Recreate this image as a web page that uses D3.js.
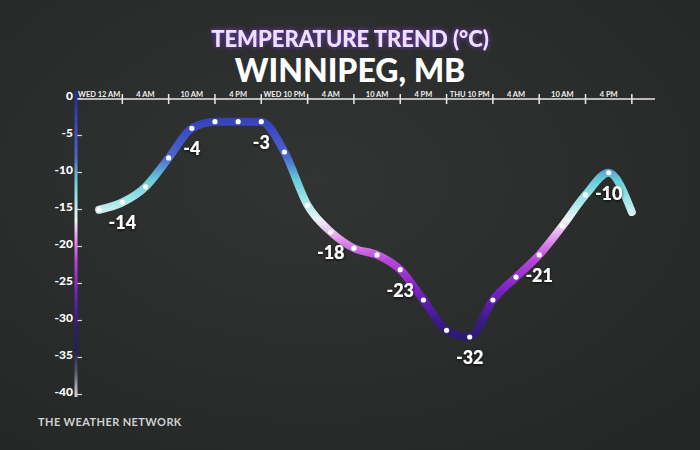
<!DOCTYPE html>
<html>
<head>
<meta charset="utf-8">
<script src="https://cdn.jsdelivr.net/npm/d3@7"></script>
<style>
  html, body { margin: 0; padding: 0; background: #2d2e2e; }
  svg { display: block; }
</style>
</head>
<body>
<script>
const width = 700;
const height = 450;

// temperatures every 3 hours (°C)
const hours = [3, 6, 9, 12, 15, 18, 21, 24, 27, 30, 33, 36, 39, 42, 45, 48, 51, 54, 57, 60, 63, 66, 69, 72];
const temps = [-15.1, -14.1, -12.0, -8.1, -4.1, -3.2, -3.2, -3.2, -7.3, -14.5, -18.1, -20.3,
               -21.2, -23.2, -27.3, -31.4, -32.3, -27.3, -24.2, -21.2, -17.3, -13.1, -10.1, -15.4];

// callout labels: index into the series, and printed text
const calloutIdx = [1, 4, 7, 10, 13, 16, 19, 22];
const calloutText = ['-14', '-4', '-3', '-18', '-23', '-32', '-21', '-10'];

// top axis labels (one per 6-hour band)
const timeLabels = ['WED 12 AM', '4 AM', '10 AM', '4 PM', 'WED 10 PM', '4 AM', '10 AM', '4 PM',
                    'THU 10 PM', '4 AM', '10 AM', '4 PM'];
const yTicks = [0, -5, -10, -15, -20, -25, -30, -35, -40];

// colour ramp keyed by temperature
const rampTemps  = [0, -4, -8, -11, -14, -16.5, -19, -22, -26, -30, -34, -37, -40];
const rampColors = ['#2a2f9a', '#3b49c2', '#4c66cc', '#66cbd8', '#a6e8ea', '#f2f3f6', '#e298ec',
                    '#b645d8', '#7a22c4', '#3a1a8e', '#1f1c5c', '#55566e', '#c9c9d2'];

const svg = d3.select('body').append('svg')
    .attr('width', width)
    .attr('height', height);

const defs = svg.append('defs');

// background with a bit of variation
const bg = defs.append('radialGradient').attr('id', 'bg')
    .attr('cx', '45%').attr('cy', '40%').attr('r', '75%');
bg.append('stop').attr('offset', '0%').attr('stop-color', '#323333');
bg.append('stop').attr('offset', '100%').attr('stop-color', '#252626');
svg.append('rect').attr('width', width).attr('height', height).attr('fill', 'url(#bg)');

const x = d3.scaleLinear().domain([0, 75]).range([76, 655]);
const y = d3.scaleLinear().domain([0, -40]).range([98, 394]);

// vertical gradient following temperature
const grad = defs.append('linearGradient').attr('id', 'tempGrad')
    .attr('gradientUnits', 'userSpaceOnUse')
    .attr('x1', 0).attr('x2', 0)
    .attr('y1', y(0)).attr('y2', y(-40));
grad.selectAll('stop')
    .data(rampTemps)
    .enter().append('stop')
    .attr('offset', d => (d / -40))
    .attr('stop-color', (d, i) => rampColors[i]);

// glow for the title
const glow = defs.append('filter').attr('id', 'glow')
    .attr('x', '-20%').attr('y', '-50%').attr('width', '140%').attr('height', '200%');
glow.append('feGaussianBlur').attr('in', 'SourceAlpha').attr('stdDeviation', 2.5).attr('result', 'b');
glow.append('feFlood').attr('flood-color', '#8a3cf0').attr('flood-opacity', 0.9);
glow.append('feComposite').attr('in2', 'b').attr('operator', 'in').attr('result', 'g');
const gm = glow.append('feMerge');
gm.append('feMergeNode').attr('in', 'g');
gm.append('feMergeNode').attr('in', 'SourceGraphic');

const shadow = defs.append('filter').attr('id', 'shadow')
    .attr('x', '-30%').attr('y', '-30%').attr('width', '160%').attr('height', '160%');
shadow.append('feDropShadow').attr('dx', 0).attr('dy', 1).attr('stdDeviation', 1.5)
    .attr('flood-color', '#000').attr('flood-opacity', 0.8);

// titles
svg.append('text')
    .attr('x', 350).attr('y', 47)
    .attr('text-anchor', 'middle')
    .attr('font-family', 'Lato, sans-serif')
    .attr('font-weight', 900)
    .attr('font-size', '22px')
    .attr('fill', '#eee0ff')
    .attr('filter', 'url(#glow)')
    .text('TEMPERATURE TREND (°C)');

svg.append('text')
    .attr('x', 350).attr('y', 82)
    .attr('text-anchor', 'middle')
    .attr('font-family', 'Lato, sans-serif')
    .attr('font-weight', 900)
    .attr('font-size', '32px')
    .attr('fill', '#ffffff')
    .text('WINNIPEG, MB');

// top time axis
const topAxis = svg.append('g').attr('transform', `translate(0, ${y(0) + 1})`);
topAxis.append('line')
    .attr('x1', x.range()[0]).attr('x2', x.range()[1])
    .attr('stroke', '#e8e8e8').attr('stroke-width', 1.5);
topAxis.selectAll('.tick')
    .data(d3.range(6, 73, 6))
    .enter().append('line')
    .attr('x1', d => x(d)).attr('x2', d => x(d))
    .attr('y1', -5).attr('y2', 5)
    .attr('stroke', '#e8e8e8').attr('stroke-width', 1.5);
topAxis.selectAll('.lbl')
    .data(timeLabels)
    .enter().append('text')
    .attr('x', (d, i) => x(i * 6 + 3))
    .attr('y', -2)
    .attr('text-anchor', 'middle')
    .attr('font-family', 'Lato, sans-serif')
    .attr('font-weight', 700)
    .attr('font-size', '7.5px')
    .attr('fill', '#f0f0f0')
    .text(d => d);

// left temperature axis
const leftAxis = svg.append('g')
    .attr('transform', 'translate(76, 0)')
    .call(d3.axisLeft(y).tickValues(yTicks).tickSize(-6).tickPadding(3).tickFormat(d => d));
leftAxis.select('.domain').remove();
leftAxis.selectAll('.tick line').attr('stroke', '#d8d8d8').attr('stroke-width', 1.2);
leftAxis.selectAll('.tick text')
    .attr('dy', '0.1em')
    .attr('fill', '#ffffff')
    .attr('font-family', 'Lato, sans-serif')
    .attr('font-weight', 900)
    .attr('font-size', '12px');
svg.append('line')
    .attr('x1', 76).attr('x2', 76)
    .attr('y1', y(0) - 7).attr('y2', y(-40) + 3)
    .attr('stroke', 'url(#tempGrad)')
    .attr('stroke-width', 3);

// temperature curve
const pts = hours.map((h, i) => [x(h), y(temps[i])]);
const line = d3.line().curve(d3.curveMonotoneX);

svg.append('path')
    .attr('d', line(pts))
    .attr('fill', 'none')
    .attr('stroke', 'url(#tempGrad)')
    .attr('stroke-width', 8)
    .attr('stroke-linecap', 'round')
    .attr('stroke-linejoin', 'round');

svg.append('g').selectAll('circle')
    .data(pts.slice(0, -1))
    .enter().append('circle')
    .attr('cx', d => d[0])
    .attr('cy', d => d[1])
    .attr('r', 2.6)
    .attr('fill', '#ffffff');

// callouts under the points
svg.append('g').selectAll('text')
    .data(calloutIdx)
    .enter().append('text')
    .attr('x', d => x(hours[d]))
    .attr('y', d => y(temps[d]) + 27)
    .attr('text-anchor', 'middle')
    .attr('font-family', 'Lato, sans-serif')
    .attr('font-weight', 900)
    .attr('font-size', '18px')
    .attr('fill', '#ffffff')
    .attr('filter', 'url(#shadow)')
    .text((d, i) => calloutText[i]);

// watermark
svg.append('text')
    .attr('x', 38).attr('y', 426)
    .attr('font-family', 'Lato, sans-serif')
    .attr('font-weight', 700)
    .attr('font-size', '11px')
    .attr('letter-spacing', '0.4px')
    .attr('fill', '#cfd0d0')
    .text('THE WEATHER NETWORK');
</script>
</body>
</html>
